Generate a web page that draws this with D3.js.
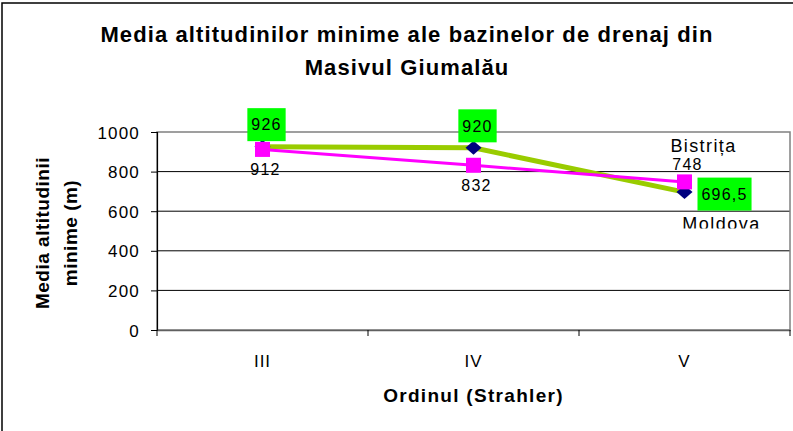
<!DOCTYPE html>
<html>
<head>
<meta charset="utf-8">
<script src="https://cdn.jsdelivr.net/npm/d3@7"></script>
<style>
  body { margin: 0; background: #fff; }
  text { font-family: "Liberation Sans", Arial, sans-serif; fill: #000; }
</style>
</head>
<body>
<div id="chart"></div>
<script>
// values
var categories = ['III', 'IV', 'V'];
var moldova = [926, 920, 696.5];
var bistrita = [912, 832, 748];
var yTicks = [0, 200, 400, 600, 800, 1000];
var seriesNames = ['Moldova', 'Bistrița'];
var moldovaLabelPos = ['above', 'above', 'right'];
var bistritaLabelPos = ['below', 'below', 'above'];
var titleLines = ['Media altitudinilor minime ale bazinelor de drenaj din', 'Masivul Giumalău'];
var yTitleLines = ['Media altitudinii', 'minime (m)'];
var xTitle = 'Ordinul (Strahler)';

var W = 793, H = 431;
var plot = { left: 157, right: 790, top: 132, bottom: 330 };

// comma as decimal mark, no thousands grouping
var fmt = d3.formatLocale({ decimal: ',', thousands: '', grouping: [3], currency: ['', ''] }).format('');

var svg = d3.select('#chart')
  .append('svg')
  .attr('width', W)
  .attr('height', H);

// chart frame
svg.append('rect')
  .attr('x', 2).attr('y', 3)
  .attr('width', 820).attr('height', 500)
  .style('fill', '#fff')
  .style('stroke', '#000')
  .style('stroke-width', 1.5);

var x = d3.scaleBand()
  .domain(categories)
  .range([plot.left, plot.right]);

var y = d3.scaleLinear()
  .domain([0, 1000])
  .range([plot.bottom, plot.top]);

// title
svg.append('text')
  .selectAll('tspan')
  .data(titleLines)
  .join('tspan')
  .attr('x', 407)
  .attr('y', function (d, i) { return 42 + i * 33; })
  .attr('text-anchor', 'middle')
  .style('font-size', '22px')
  .style('font-weight', 'bold')
  .style('letter-spacing', '1.1px')
  .text(function (d) { return d; });

// gridlines
svg.append('g')
  .selectAll('line')
  .data(yTicks.filter(function (d) { return d > 0 && d < 1000; }))
  .join('line')
  .attr('x1', plot.left).attr('x2', plot.right)
  .attr('y1', function (d) { return y(d); })
  .attr('y2', function (d) { return y(d); })
  .style('stroke', '#000')
  .style('stroke-width', 1);

// plot area border (gray)
svg.append('rect')
  .attr('x', plot.left).attr('y', plot.top)
  .attr('width', plot.right - plot.left)
  .attr('height', plot.bottom - plot.top)
  .style('fill', 'none')
  .style('stroke', '#808080')
  .style('stroke-width', 1.5);

// y axis
var yAxis = svg.append('g')
  .attr('transform', 'translate(' + plot.left + ',0)')
  .call(d3.axisLeft(y).tickValues(yTicks).tickSize(6).tickPadding(11).tickFormat(fmt));
yAxis.select('.domain').style('stroke', '#000').style('stroke-width', 1.2);
yAxis.selectAll('.tick line').style('stroke', '#000');
yAxis.selectAll('text')
  .style('font-family', '"Liberation Sans", Arial, sans-serif')
  .style('font-size', '17px')
  .style('letter-spacing', '1.2px')
  .attr('dy', '0.36em');

// x axis
var xAxis = svg.append('g')
  .attr('transform', 'translate(0,' + plot.bottom + ')')
  .call(d3.axisBottom(x).tickSize(0).tickPadding(25));
xAxis.select('.domain').style('stroke', '#606060').style('stroke-width', 1.5);
xAxis.selectAll('text')
  .style('font-family', '"Liberation Sans", Arial, sans-serif')
  .style('font-size', '17px')
  .style('letter-spacing', '1px');

// x ticks at band edges
var edges = categories.map(function (c) { return x(c); }).concat([plot.right]);
svg.append('g')
  .selectAll('line')
  .data(edges)
  .join('line')
  .attr('x1', function (d) { return d; })
  .attr('x2', function (d) { return d; })
  .attr('y1', plot.bottom)
  .attr('y2', plot.bottom + 6)
  .style('stroke', '#000');

// axis titles
svg.append('text')
  .attr('x', (plot.left + plot.right) / 2)
  .attr('y', 402)
  .attr('text-anchor', 'middle')
  .style('font-size', '19px')
  .style('font-weight', 'bold')
  .style('letter-spacing', '1.3px')
  .text(xTitle);

svg.append('text')
  .attr('transform', 'translate(0,233) rotate(-90)')
  .selectAll('tspan')
  .data(yTitleLines)
  .join('tspan')
  .attr('x', 0)
  .attr('y', function (d, i) { return 49 + i * 28; })
  .attr('text-anchor', 'middle')
  .style('font-size', '19px')
  .style('font-weight', 'bold')
  .style('letter-spacing', '0.5px')
  .text(function (d) { return d; });

var cx = function (d, i) { return x(categories[i]) + x.bandwidth() / 2; };

var line = d3.line()
  .x(function (d, i) { return cx(d, i); })
  .y(function (d) { return y(d); });

// Moldova series
svg.append('path')
  .datum(moldova)
  .attr('d', line)
  .style('fill', 'none')
  .style('stroke', '#99CC00')
  .style('stroke-width', 5);

svg.append('g')
  .selectAll('path')
  .data(moldova)
  .join('path')
  .attr('transform', function (d, i) { return 'translate(' + cx(d, i) + ',' + y(d) + ')'; })
  .attr('d', 'M0,-7 L8,0 L0,7 L-8,0 Z')
  .style('fill', '#000080');

// Bistrita series
svg.append('path')
  .datum(bistrita)
  .attr('d', line)
  .style('fill', 'none')
  .style('stroke', '#FF00FF')
  .style('stroke-width', 3);

svg.append('g')
  .selectAll('rect')
  .data(bistrita)
  .join('rect')
  .attr('x', function (d, i) { return cx(d, i) - 7.5; })
  .attr('y', function (d) { return y(d) - 7.5; })
  .attr('width', 15)
  .attr('height', 15)
  .style('fill', '#FF00FF');

// Bistrita data labels
svg.append('g')
  .selectAll('text')
  .data(bistrita)
  .join('text')
  .attr('x', function (d, i) { return cx(d, i) + 3; })
  .attr('y', function (d, i) { return bistritaLabelPos[i] === 'below' ? y(d) + 26 : y(d) - 12; })
  .attr('text-anchor', 'middle')
  .style('font-size', '16px')
  .style('letter-spacing', '1.2px')
  .text(function (d) { return fmt(d); });

// Moldova data labels with green boxes
var mLab = svg.append('g')
  .selectAll('g')
  .data(moldova)
  .join('g');

mLab.append('text')
  .style('font-size', '16px')
  .style('letter-spacing', '1.2px')
  .text(function (d) { return fmt(d); });

mLab.each(function (d, i) {
  var g = d3.select(this);
  var t = g.select('text');
  var tw = t.node().getComputedTextLength();
  var bw = tw + 8, bh = 33;
  var bx, by;
  if (moldovaLabelPos[i] === 'right') {
    bx = cx(d, i) + 13;
    by = y(d) + 2 - bh / 2;
  } else {
    bx = cx(d, i) + 4 - bw / 2;
    by = y(d) - 22 - bh / 2;
  }
  g.insert('rect', 'text')
    .attr('x', bx).attr('y', by)
    .attr('width', bw).attr('height', bh)
    .style('fill', '#00FF00');
  t.attr('x', bx + 4).attr('y', by + bh / 2 + 5.7);
});

// series names next to the last point
var last = categories.length - 1;
svg.append('text')
  .attr('x', cx(null, last) + 19)
  .attr('y', y(bistrita[last]) - 30)
  .attr('text-anchor', 'middle')
  .style('font-size', '18px')
  .style('letter-spacing', '1.4px')
  .text(seriesNames[1]);

svg.append('clipPath')
  .attr('id', 'clip-moldova')
  .append('rect')
  .attr('x', 0).attr('y', 0)
  .attr('width', W)
  .attr('height', y(moldova[last]) + 36.5);

svg.append('text')
  .attr('clip-path', 'url(#clip-moldova)')
  .attr('x', cx(null, last) + 37)
  .attr('y', y(moldova[last]) + 37.5)
  .attr('text-anchor', 'middle')
  .style('font-size', '18px')
  .style('letter-spacing', '1.5px')
  .text(seriesNames[0]);
</script>
</body>
</html>
